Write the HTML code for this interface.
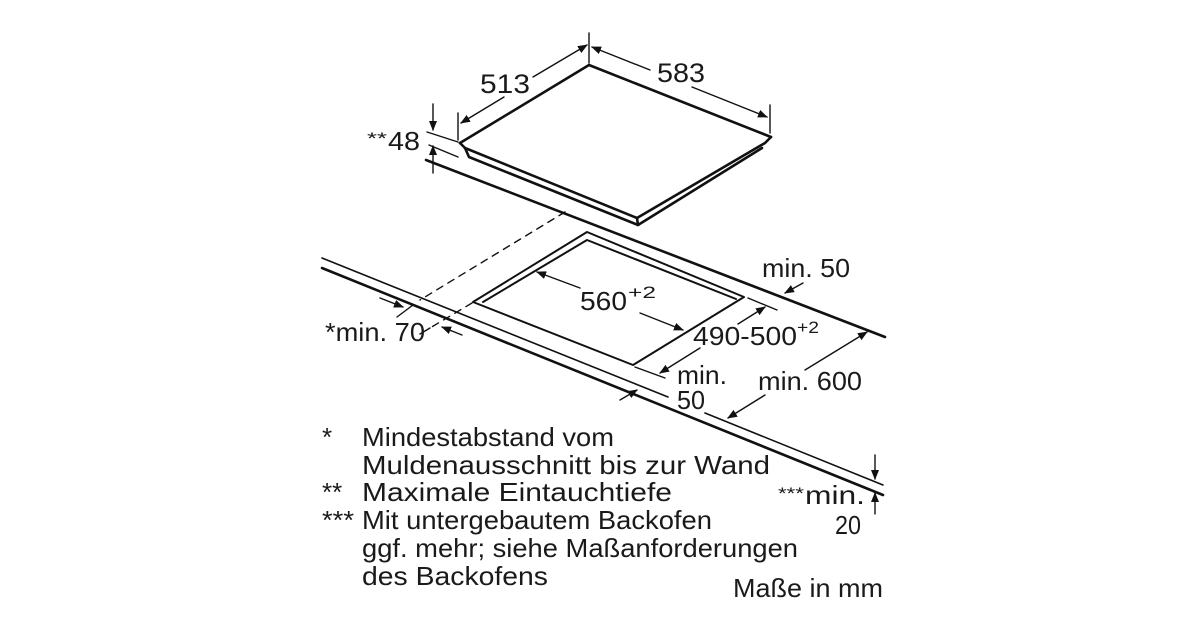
<!DOCTYPE html>
<html><head><meta charset="utf-8"><style>
html,body{margin:0;padding:0;background:#fff;}
svg{display:block;}
text{font-family:"Liberation Sans",sans-serif;fill:#1a1a1a;}
</style></head><body>
<svg width="1200" height="630" viewBox="0 0 1200 630" xmlns="http://www.w3.org/2000/svg">
<defs>
<marker id="a" markerWidth="10" markerHeight="8" refX="9" refY="4" orient="auto" markerUnits="userSpaceOnUse"><path d="M0,0 L10,4 L0,8 z" fill="#111"/></marker>
</defs>
<g stroke="#111" fill="none" stroke-linecap="round" stroke-linejoin="round">
<g stroke-width="2.6">
<path d="M460,143 L589,65 L771,137"/>
<path d="M460,143 L465,148 L637,218 L765,143 L771,137"/>
<path d="M465,148 L469,157 L638,225 L762,148"/>
<path d="M637,218 L638,225"/>
</g>
<g stroke-width="2.6">
<path d="M426,160 L885,337"/>
<path d="M322,268 L883,495"/>
</g>
<path d="M322,258 L668,397" stroke-width="1.6"/>
<path d="M705,413 L883,485" stroke-width="1.6"/>
<g stroke-width="2">
<path d="M473,302 L587,232 L744,297 L633,365 Z"/>
<path d="M483,302 L587,240 L736,299"/>
</g>
<path d="M565,212 L420,300" stroke-width="1.4" stroke-dasharray="7,6"/>
<path d="M472,303 L430,328" stroke-width="1.4" stroke-dasharray="7,6"/>
<path d="M430,328 L420,334" stroke-width="1.4"/>
<g stroke-width="1.4">
<path d="M458,113 L458,140"/>
<path d="M504,97 L461,123" marker-end="url(#a)"/>
<path d="M533,77 L587,45" marker-end="url(#a)"/>
<path d="M589,33 L589,63"/>
<path d="M650,70 L592,47" marker-end="url(#a)"/>
<path d="M692,87 L767,117" marker-end="url(#a)"/>
<path d="M770,105 L770,133"/>
<path d="M427,132 L458,142"/>
<path d="M429,145 L458,157"/>
<path d="M433,104 L433,130" marker-end="url(#a)"/>
<path d="M433,173 L433,146" marker-end="url(#a)"/>
<path d="M380,298 L403,307" marker-end="url(#a)"/>
<path d="M397,317 L413,305"/>
<path d="M462,335 L442,327" marker-end="url(#a)"/>
<path d="M580,288 L537,272" marker-end="url(#a)"/>
<path d="M640,313 L683,330" marker-end="url(#a)"/>
<path d="M748,298 L777,310"/>
<path d="M738,324 L765,307" marker-end="url(#a)"/>
<path d="M635,367 L665,378"/>
<path d="M700,348 L660,373" marker-end="url(#a)"/>
<path d="M803,283 L785,293" marker-end="url(#a)"/>
<path d="M805,370 L867,332" marker-end="url(#a)"/>
<path d="M765,395 L728,418" marker-end="url(#a)"/>
<path d="M620,400 L637,390" marker-end="url(#a)"/>
<path d="M875,455 L875,479" marker-end="url(#a)"/>
<path d="M875,514 L875,493" marker-end="url(#a)"/>
</g>
</g>
<g font-size="26">
<text x="480" y="93" font-size="27" textLength="50" lengthAdjust="spacingAndGlyphs">513</text>
<text x="657" y="82" font-size="27" textLength="48" lengthAdjust="spacingAndGlyphs">583</text>
<text x="367" y="150" font-size="17" textLength="20" lengthAdjust="spacingAndGlyphs" dy="-6">**</text>
<text x="388" y="150" textLength="32" lengthAdjust="spacingAndGlyphs">48</text>
<text x="762" y="277" textLength="88" lengthAdjust="spacingAndGlyphs">min. 50</text>
<text x="580" y="310" textLength="47" lengthAdjust="spacingAndGlyphs">560</text>
<text x="628" y="298" font-size="17" textLength="28" lengthAdjust="spacingAndGlyphs">+2</text>
<text x="693" y="345" textLength="104" lengthAdjust="spacingAndGlyphs">490-500</text>
<text x="797" y="333" font-size="17" textLength="22" lengthAdjust="spacingAndGlyphs">+2</text>
<text x="325" y="341" textLength="100" lengthAdjust="spacingAndGlyphs">*min. 70</text>
<text x="677" y="384" textLength="50" lengthAdjust="spacingAndGlyphs">min.</text>
<text x="677" y="409" textLength="28" lengthAdjust="spacingAndGlyphs">50</text>
<text x="758" y="390" textLength="104" lengthAdjust="spacingAndGlyphs">min. 600</text>
<text x="778" y="499" font-size="17" textLength="26" lengthAdjust="spacingAndGlyphs">***</text>
<text x="805" y="504" textLength="60" lengthAdjust="spacingAndGlyphs">min.</text>
<text x="835" y="534" textLength="26" lengthAdjust="spacingAndGlyphs">20</text>
</g>
<g font-size="26">
<text x="322" y="446">*</text><text x="362" y="446" textLength="252" lengthAdjust="spacingAndGlyphs">Mindestabstand vom</text>
<text x="362" y="474" textLength="408" lengthAdjust="spacingAndGlyphs">Muldenausschnitt bis zur Wand</text>
<text x="322" y="501">**</text><text x="362" y="501" textLength="310" lengthAdjust="spacingAndGlyphs">Maximale Eintauchtiefe</text>
<text x="322" y="529" textLength="32" lengthAdjust="spacingAndGlyphs">***</text><text x="362" y="529" textLength="350" lengthAdjust="spacingAndGlyphs">Mit untergebautem Backofen</text>
<text x="362" y="557" textLength="436" lengthAdjust="spacingAndGlyphs">ggf. mehr; siehe Maßanforderungen</text>
<text x="362" y="585" textLength="186" lengthAdjust="spacingAndGlyphs">des Backofens</text>
<text x="733" y="597" textLength="150" lengthAdjust="spacingAndGlyphs">Maße in mm</text>
</g>
</svg>
</body></html>
